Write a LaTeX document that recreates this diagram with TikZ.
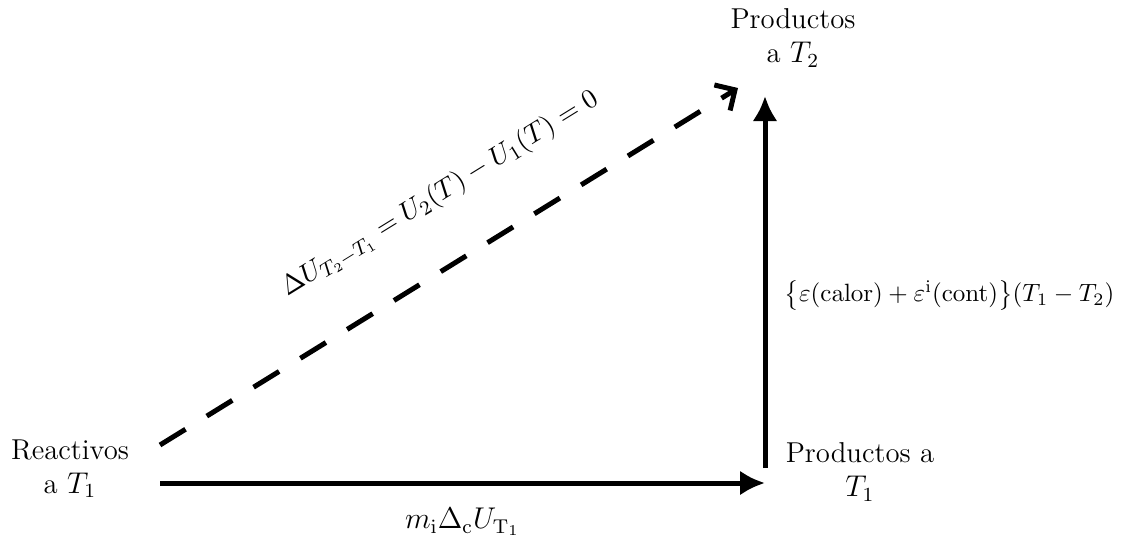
\documentclass[tikz,border=0pt]{standalone}
\usepackage{amsmath}
\usetikzlibrary{positioning,arrows.meta}
\begin{document}
\begin{tikzpicture}[x=0.4pt,y=-0.4pt,
                every node/.style={font=\fontsize{11.5}{13.5}\selectfont}]
                \useasboundingbox (0,0) rectangle (1141,542);
                \tikzset{estado/.style={align=center, inner sep=0pt},
                         flecha/.style={-{Latex[length=10pt,width=10pt]}, line width=2pt},
                         tracejada/.style={-{Straight Barb[length=6pt,width=12pt,line width=2pt]}, line width=2pt, dash pattern=on 12pt off 10pt},
                         rotulo/.style={inner sep=2pt}}

                % estados
                \node[estado] (reactivos) at (70,469) {Reactivos\\ a $T_1$};
                \node[estado] (prodT1) at (860,472) {Productos a\\ $T_1$};
                \node[estado] (prodT2) at (793,38) {Productos\\ a $T_2$};

                % extremos das setas
                \coordinate (hIni) at (160,483);
                \coordinate (hFim) at (765,483);
                \coordinate (vIni) at (765,468);
                \coordinate (vFim) at (765,96);
                \coordinate (dIni) at (160,445);
                \coordinate (dFim) at (738,88);

                \draw[flecha] (hIni) -- (hFim) node[rotulo, midway, below=7pt] {$m_{\mathrm{i}}\Delta_{\mathrm{c}}U_{\mathrm{T}_1}$}; % reactivos -> productos a T1
                \draw[flecha] (vIni) -- (vFim); % productos a T1 -> productos a T2
                \draw[tracejada] (dIni) -- (dFim); % reactivos -> productos a T2

                \node[rotulo, anchor=west, font=\fontsize{10.3}{12}\selectfont] (calor) at (779,295) {$\bigl\{\varepsilon(\mathrm{calor})+\varepsilon^{\mathrm{i}}(\mathrm{cont})\bigr\}(T_1-T_2)$};
                \node[rotulo, rotate=31.7, font=\fontsize{11}{13}\selectfont] (deltaU) at (440,194) {$\Delta U_{T_2-T_1}=U_2(T)-U_1(T)=0$};
            \end{tikzpicture}
\end{document}
